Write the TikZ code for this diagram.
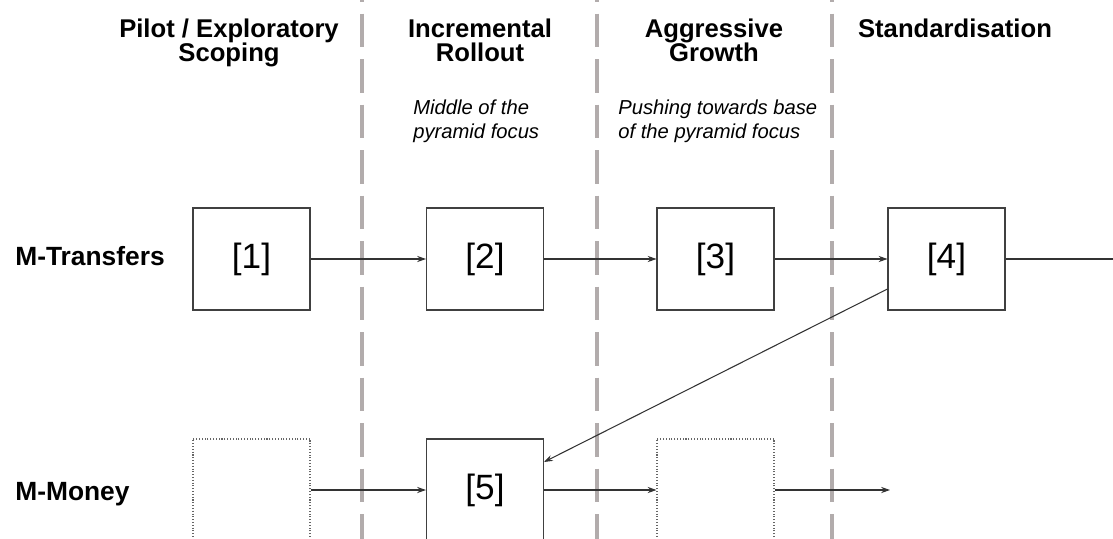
\documentclass[tikz,border=0pt]{standalone}
\usepackage{fontspec}
\setmainfont{Liberation Sans}
\usetikzlibrary{calc,arrows.meta}
\definecolor{sepgray}{RGB}{178,172,172}
\newcommand\tightlines{\lineskiplimit=-20pt\relax}

\begin{document}
\begin{tikzpicture}[x=0.02cm,y=-0.02cm]
		\tikzset{box/.style={draw=black!75,line width=0.6pt,minimum width=2.34cm,minimum height=2.04cm,inner sep=0pt,font=\fontsize{20}{24}\selectfont}};
		\tikzset{ghost/.style={box,draw=black!60,densely dotted}};
		\tikzset{flow/.style={-{Stealth[length=5pt,width=3.5pt]},draw=black!80,line width=0.6pt}};
		\tikzset{phase/.style={anchor=north,inner sep=0pt,align=center,font=\bfseries\fontsize{14.6}{13.4}\selectfont\tightlines}};
		\tikzset{note/.style={anchor=north west,inner sep=0pt,align=left,font=\itshape\fontsize{11.5}{13.6}\selectfont}};
		\tikzset{lane/.style={anchor=base west,inner sep=0pt,font=\bfseries\fontsize{15}{18}\selectfont}};
		
		\useasboundingbox (0,0) rectangle (1113,538);
		\clip (0,0) rectangle (1113,538);
		\foreach \x in {362,597,832}
		\draw [color=sepgray,line width=2.8pt,dash pattern=on 19.3pt off 6.6pt] (\x,-32)--(\x,560);
		
		% phases
		\node (ph1) at (229,19) [phase] {Pilot / Exploratory\\Scoping};
		\node (ph2) at (480,19) [phase] {Incremental\\Rollout};
		\node (ph3) at (714,19) [phase] {Aggressive\\Growth};
		\node (ph4) at (955,19) [phase] {Standardisation};
		\node (n2) at (413,100) [note] {Middle of the\\pyramid focus};
		\node (n3) at (618,100) [note] {Pushing towards base\\of the pyramid focus};
		
		% rows
		\node (mt) at (15,265) [lane] {M-Transfers};
		\node (mm) at (15,500) [lane] {M-Money};
		
		\node (b1) at (251.5,259) [box] {[1]};
		\node (b2) at (485,259) [box] {[2]};
		\node (b3) at (715.5,259) [box] {[3]};
		\node (b4) at (946.5,259) [box] {[4]};
		\node (e1) at (251.5,490) [ghost] {};
		\node (b5) at (485,490) [box] {[5]};
		\node (e3) at (715.5,490) [ghost] {};
		\coordinate (out4) at (1113,259);
		\coordinate (out5) at (890,490);
		
		\draw [flow] (b1)--(b2);
		\draw [flow] (b2)--(b3);
		\draw [flow] (b3)--(b4);
		\draw [draw=black!80,line width=0.6pt] (b4.east)--(out4);
		\draw [flow] (e1)--(b5);
		\draw [flow] (b5)--(e3);
		\draw [flow] (e3.east)--(out5);
		\draw [flow] ($(b4.west)+(0,30)$)--($(b5.east)+(0,-28)$);
		\end{tikzpicture}
\end{document}
